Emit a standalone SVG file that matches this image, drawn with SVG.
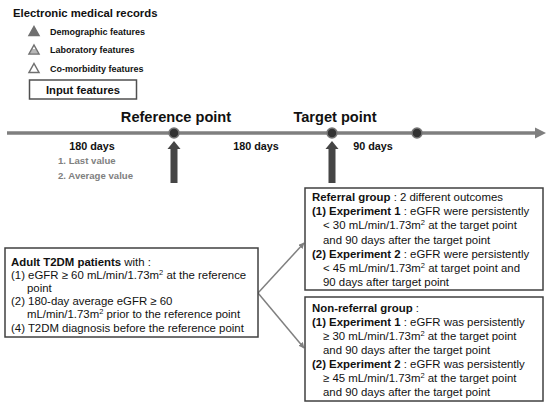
<svg xmlns="http://www.w3.org/2000/svg" width="550" height="408" viewBox="0 0 550 408">
<defs>
<style>
text{font-family:"Liberation Sans",Arial,sans-serif;fill:#111}
.b{font-weight:bold}
.t11{font-size:11.4px}
.leg{font-size:9px;font-weight:bold}
.tl{font-size:14.6px;font-weight:bold}
.days{font-size:10.8px;font-weight:bold}
.gray{font-size:9.6px;font-weight:bold;fill:#808080}
.box{fill:#fff;stroke:#404040;stroke-width:1.5}
.sup{font-size:7.5px}
.conn{stroke:#808080;stroke-width:1.5;fill:none}
.tri{stroke:#707070;stroke-width:1.5}
</style>
<marker id="ah" viewBox="0 0 10 10" refX="9" refY="5" markerWidth="4" markerHeight="4" orient="auto">
<path d="M0,0 L10,5 L0,10 z" fill="#808080"/>
</marker>
</defs>
<rect width="550" height="408" fill="#fff"/>

<g id="legend">
<text class="b" x="13" y="17" style="font-size:11.3px">Electronic medical records</text>
<polygon class="tri" points="34,26.5 39,35.5 29,35.5" fill="#707070"/>
<text class="leg" x="50" y="35">Demographic features</text>
<polygon class="tri" points="34,45 39,54 29,54" fill="#fff"/>
<line x1="31.5" y1="50" x2="36.5" y2="50" stroke="#707070" stroke-width="1"/>
<line x1="30.5" y1="52" x2="37.5" y2="52" stroke="#707070" stroke-width="1"/>
<text class="leg" x="50" y="53">Laboratory features</text>
<polygon class="tri" points="34,63.5 39,72.5 29,72.5" fill="#fff"/>
<text class="leg" x="50" y="71.5">Co-morbidity features</text>
</g>

<g id="input-features">
<rect x="29.5" y="80" width="107" height="19" fill="#fff" stroke="#505050" stroke-width="1.5"/>
<text class="b" x="83" y="93.5" text-anchor="middle" style="font-size:11.2px">Input features</text>
</g>

<g id="timeline">
<line x1="7" y1="133" x2="537" y2="133" stroke="#7f7f7f" stroke-width="3.5"/>
<polygon points="535,127.5 546,133 535,138.5" fill="#7f7f7f"/>
<text class="tl" x="176" y="122" text-anchor="middle">Reference point</text>
<text class="tl" x="335" y="122" text-anchor="middle">Target point</text>
<text class="days" x="92" y="150" text-anchor="middle">180 days</text>
<text class="gray" x="58" y="164">1. Last value</text>
<text class="gray" x="58" y="179">2. Average value</text>
<text class="days" x="256" y="150" text-anchor="middle">180 days</text>
<text class="days" x="373" y="150" text-anchor="middle">90 days</text>
</g>

<g id="reference-point">
<circle cx="174" cy="133" r="5" fill="#333" stroke="#777" stroke-width="1.5"/>
<polygon points="174,141 180.5,149 177.5,149 177.5,183 170.5,183 170.5,149 167.5,149" fill="#454545"/>
</g>
<g id="target-point">
<circle cx="332" cy="133" r="5" fill="#333" stroke="#777" stroke-width="1.5"/>
<polygon points="332,141 338.5,149 335.5,149 335.5,183 328.5,183 328.5,149 325.5,149" fill="#454545"/>
</g>
<g id="end-point">
<circle cx="417" cy="133" r="5" fill="#333" stroke="#777" stroke-width="1.5"/>
</g>

<g id="connectors">
<line class="conn" x1="258" y1="293" x2="304" y2="243" marker-end="url(#ah)"/>
<line class="conn" x1="258" y1="293" x2="304" y2="348" marker-end="url(#ah)"/>
</g>

<g id="patients">
<rect class="box" x="5" y="248" width="253" height="89"/>
<text class="t11" x="11" y="265.5"><tspan class="b">Adult T2DM patients</tspan> with :</text>
<text class="t11" x="11" y="278.7">(1) eGFR ≥ 60 mL/min/1.73m<tspan class="sup" baseline-shift="super">2</tspan> at the reference</text>
<text class="t11" x="27" y="291.9">point</text>
<text class="t11" x="11" y="305.1">(2) 180-day average eGFR ≥ 60</text>
<text class="t11" x="27" y="318.3">mL/min/1.73m<tspan class="sup" baseline-shift="super">2</tspan> prior to the reference point</text>
<text class="t11" x="11" y="331.5">(4) T2DM diagnosis before the reference point</text>
</g>

<g id="referral">
<rect class="box" x="305" y="188" width="238" height="102"/>
<text class="t11" x="312" y="201"><tspan class="b">Referral group</tspan> : 2 different outcomes</text>
<text class="t11" x="312" y="215.2"><tspan class="b">(1) Experiment 1</tspan> :  eGFR were persistently</text>
<text class="t11" x="323" y="229.4">&lt; 30 mL/min/1.73m<tspan class="sup" baseline-shift="super">2</tspan> at the target point</text>
<text class="t11" x="323" y="243.6">and 90 days after the target point</text>
<text class="t11" x="312" y="257.8"><tspan class="b">(2) Experiment 2</tspan> :  eGFR were persistently</text>
<text class="t11" x="323" y="272">&lt; 45 mL/min/1.73m<tspan class="sup" baseline-shift="super">2</tspan> at target point and</text>
<text class="t11" x="323" y="286.2">90 days after target point</text>
</g>

<g id="non-referral">
<rect class="box" x="305" y="297" width="238" height="104"/>
<text class="t11" x="312" y="311.5"><tspan class="b">Non-referral group</tspan> :</text>
<text class="t11" x="312" y="325.6"><tspan class="b">(1) Experiment 1</tspan> :  eGFR was persistently</text>
<text class="t11" x="323" y="339.7">≥ 30 mL/min/1.73m<tspan class="sup" baseline-shift="super">2</tspan> at the target point</text>
<text class="t11" x="323" y="353.8">and 90 days after the target point</text>
<text class="t11" x="312" y="367.9"><tspan class="b">(2) Experiment 2</tspan> :  eGFR was persistently</text>
<text class="t11" x="323" y="382">≥ 45 mL/min/1.73m<tspan class="sup" baseline-shift="super">2</tspan> at the target point</text>
<text class="t11" x="323" y="396.1">and 90 days after the target point</text>
</g>
</svg>
